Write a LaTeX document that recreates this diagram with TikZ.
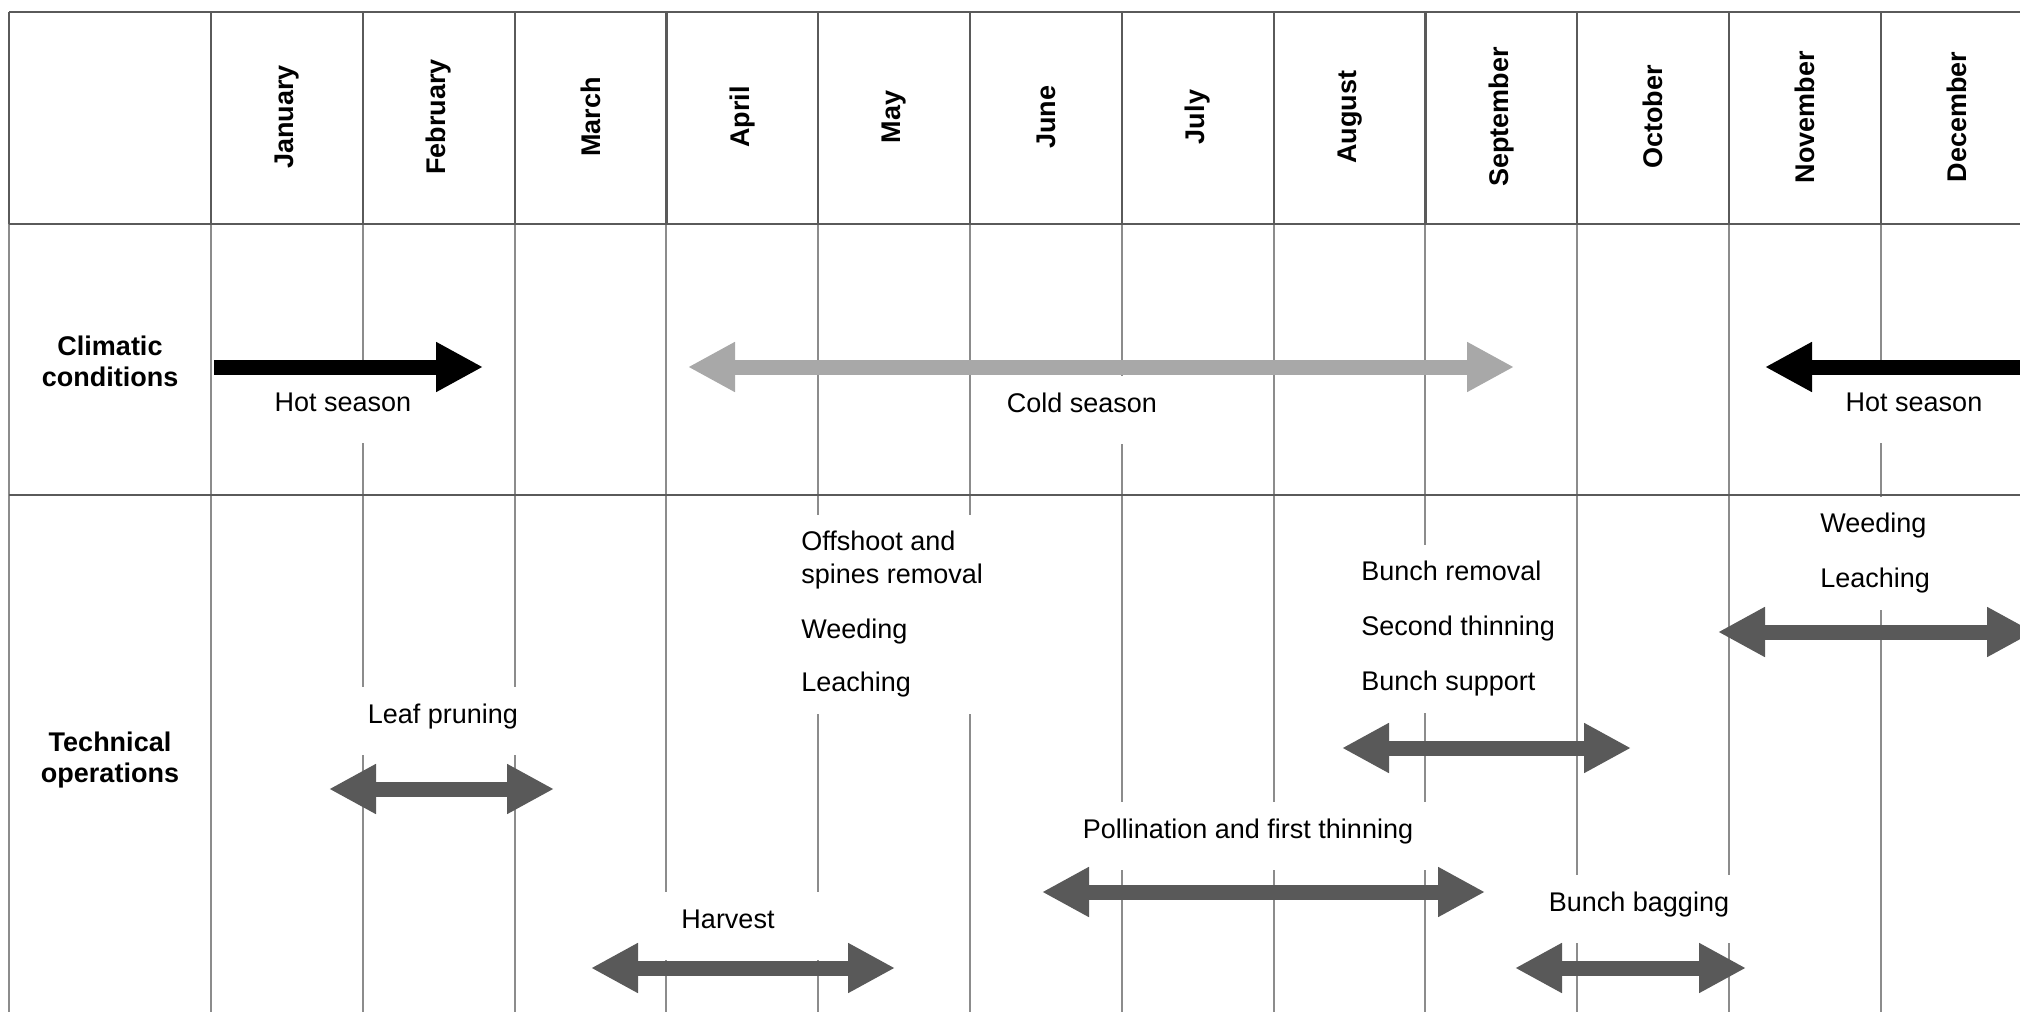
\documentclass[tikz,border=0pt]{standalone}
\usepackage{fontspec}
\setmainfont{Liberation Sans}
\usepackage{tikz}
\usetikzlibrary{arrows.meta}
\definecolor{headline}{HTML}{5A5A5A}
\definecolor{gridgray}{HTML}{8C8C8C}
\definecolor{darkbar}{HTML}{595959}
\definecolor{coldbar}{HTML}{A8A8A8}
\tikzstyle{frame} = [draw=headline, line width=1.1pt]
\tikzstyle{grid} = [draw=gridgray, line width=1pt]
\tikzstyle{month} = [rotate=90, font=\fontsize{13.5}{16.5}\selectfont\bfseries]
\tikzstyle{rowhead} = [align=center, font=\fontsize{13.5}{15.5}\selectfont\bfseries]
\tikzstyle{season} = [fill=white, anchor=base, inner xsep=10pt, inner ysep=0pt,
text height=18pt, text depth=16pt,
font=\fontsize{13.5}{16.5}\selectfont]
\tikzstyle{task} = [season]
\tikzstyle{tasklist} = [fill=white, anchor=north west, align=left,
inner xsep=10pt, inner ysep=8pt,
font=\fontsize{13.5}{16.5}\selectfont]
\tikzstyle{bar} = [line width=7.5pt, >={Triangle[length=23.5pt,width=23.5pt]}]
\begin{document}
\begin{tikzpicture}[x=0.5pt, y=-0.5pt]
\useasboundingbox (0,0) rectangle (2020,1012);
\clip (0,0) rectangle (2020,1012);

\foreach \i in {0,...,11} {
  \draw [grid] ({211+151.8*\i},224) -- ({211+151.8*\i},1030);
  \draw [frame] ({211+151.8*\i},12) -- ({211+151.8*\i},224);
}
\draw [grid] (9,224) -- (9,1030);
\draw [frame] (9,12) -- (9,224);
\draw [frame] (9,12) -- (2040,12);
\draw [frame] (9,224) -- (2040,224);
\draw [frame] (9,495) -- (2040,495);

\foreach \m [count=\i from 0] in {January,February,March,April,May,June,July,August,September,October,November,December}
  \node (month\i) [month] at ({287+151.8*\i},117) {\m};

\node (climate) [rowhead] at (110,361) {Climatic\\conditions};
\node (technical) [rowhead] at (110,760) {Technical\\operations};

\node (hotleft) [season] at (343,411) {Hot season};
\node (cold) [season] at (1082,412) {Cold season};
\node (hotright) [season] at (1914,411) {Hot season};

\node (offshoot) [tasklist] at (781,515) {Offshoot and\\spines removal\\[11pt]Weeding\\[10pt]Leaching};
\node (bunch) [tasklist] at (1341,545) {Bunch removal\\[11pt]Second thinning\\[11pt]Bunch support};
\node (weeding) [tasklist] at (1800,497) {Weeding\\[11pt]Leaching};
\node (pruning) [task] at (443,723) {Leaf pruning};
\node (harvest) [task, inner xsep=25pt] at (728,928) {Harvest};
\node (pollination) [task, inner xsep=12pt] at (1248,838) {Pollination and first thinning};
\node (bagging) [task] at (1639,911) {Bunch bagging};

\coordinate (hotstart) at (214,367);
\coordinate (hotend) at (483,367);
\coordinate (coldstart) at (688,367);
\coordinate (coldend) at (1514,367);
\coordinate (hotrstart) at (2060,367);
\coordinate (hotrend) at (1765,367);
\coordinate (pruningA) at (329,789);
\coordinate (pruningB) at (554,789);
\coordinate (harvestA) at (591,968);
\coordinate (harvestB) at (895,968);
\coordinate (pollinationA) at (1042,892);
\coordinate (pollinationB) at (1485,892);
\coordinate (bunchA) at (1342,748);
\coordinate (bunchB) at (1631,748);
\coordinate (weedingA) at (1718,632);
\coordinate (weedingB) at (2034,632);
\coordinate (baggingA) at (1515,968);
\coordinate (baggingB) at (1746,968);

\draw [bar, ->, black] (hotstart) -- (hotend);
\draw [bar, <->, coldbar] (coldstart) -- (coldend);
\draw [bar, ->, black] (hotrstart) -- (hotrend);
\draw [bar, <->, darkbar] (pruningA) -- (pruningB);
\draw [bar, <->, darkbar] (harvestA) -- (harvestB);
\draw [bar, <->, darkbar] (pollinationA) -- (pollinationB);
\draw [bar, <->, darkbar] (bunchA) -- (bunchB);
\draw [bar, <->, darkbar] (weedingA) -- (weedingB);
\draw [bar, <->, darkbar] (baggingA) -- (baggingB);
\end{tikzpicture}
\end{document}
